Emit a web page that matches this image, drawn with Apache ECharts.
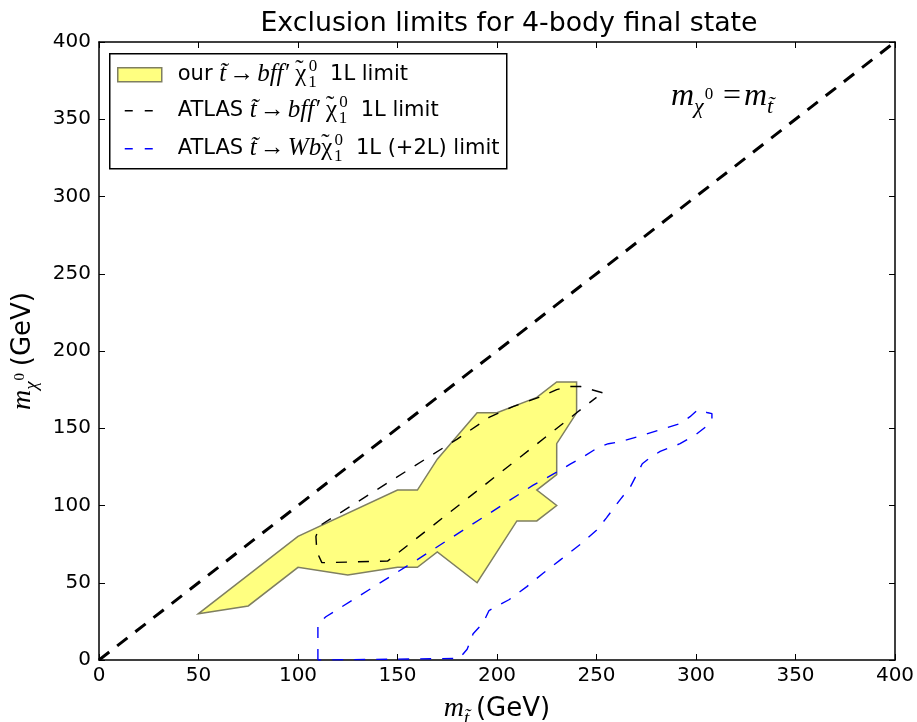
<!DOCTYPE html>
<html>
<head>
<meta charset="utf-8">
<title>Exclusion limits for 4-body final state</title>
<script src="https://cdn.jsdelivr.net/npm/echarts@6/dist/echarts.min.js"></script>
<style>
  html, body { margin: 0; padding: 0; background: #fff; }
  #chart { width: 917px; height: 722px; }
</style>
</head>
<body>
<div id="chart"></div>
<script>
// Axis ticks (GeV)
const xTicks = [0, 50, 100, 150, 200, 250, 300, 350, 400];
const yTicks = [0, 50, 100, 150, 200, 250, 300, 350, 400];

// Our stop -> b f f' chi 4-body 1L excluded region (closed polygon)
const ourX = [50, 75, 100, 125, 150, 160, 170, 190, 210, 220, 230, 220, 230, 230, 240, 240, 230, 220, 200, 190, 170, 160, 150, 100];
const ourY = [30, 35, 60, 55, 60, 60, 70, 50, 90, 90, 100, 110, 120, 140, 160, 180, 180, 170, 160, 160, 130, 110, 110, 80];

// ATLAS stop -> b f f' chi 1L contour
const atlasX = [253, 242, 236, 230, 221, 208, 196, 180, 111, 109, 109.5, 112, 145, 240, 250];
const atlasY = [173, 177, 177, 175, 170, 164, 157, 143, 87, 80, 70, 63, 64, 160, 170];

// ATLAS stop -> W b chi 1L (+2L) contour
const wbX = [110, 110, 114, 160, 218, 232, 237, 242, 251, 256, 262, 272, 282, 292, 297, 301, 306, 308, 308, 305, 300, 292, 282, 277, 273, 267, 262, 255, 250, 243, 232, 223, 215, 206, 196, 193, 188, 185, 181, 180, 110];
const wbY = [0, 23, 28, 65, 113, 123, 127, 130.5, 137.7, 140, 141.3, 145, 149, 153, 157.5, 162, 160, 159.5, 156, 151, 146, 140, 135, 131, 127, 112, 104, 92, 84, 76, 65, 56, 47.5, 39, 32, 24, 17, 7, 1, 0, 0];

// Kinematic boundary m_chi = m_stop
const diagX = [0, 400];
const diagY = [0, 400];

const pairs = (xs, ys) => xs.map((x, i) => [x, ys[i]]);

const SANS = 'DejaVu Sans';
const SERIF = 'Liberation Serif';

// rich-text styles for the math fragments
// base: sans text size, m: math glyph size, spread: extra line height that
// sets how far sub/superscripts move away from the baseline
function mathRich(base, m, spread) {
  const s = Math.round(m * 0.68);
  const ss = Math.round(m * 0.52);
  const lh = m + spread;
  return {
    n: { fontFamily: SANS, fontSize: base, color: '#000', lineHeight: lh },
    i: { fontFamily: SERIF, fontStyle: 'italic', fontSize: m, color: '#000', lineHeight: lh },
    u: { fontFamily: SERIF, fontSize: m, color: '#000', lineHeight: lh },
    r: { fontFamily: SERIF, fontSize: m, color: '#000', lineHeight: lh, padding: [0, 3, 0, 3] },
    // tilde accent drawn back over the preceding chi, leaving the pen where it was
    tl: { fontFamily: SERIF, fontSize: m, color: '#000', lineHeight: m + 2, verticalAlign: 'top',
          padding: [0, Math.round(m * 0.11), 0, -Math.round(m * 0.44)] },
    sub: { fontFamily: SERIF, fontStyle: 'italic', fontSize: s, color: '#000', lineHeight: s + 2, verticalAlign: 'bottom' },
    sup: { fontFamily: SERIF, fontSize: s, color: '#000', lineHeight: s + 2, verticalAlign: 'top', padding: [0, 0, 0, 2] },
    // superscript attached to a subscript (sits near the middle of the line)
    ssup: { fontFamily: SERIF, fontSize: ss, color: '#000', lineHeight: ss + 2, verticalAlign: 'middle', padding: [0, 0, 5, 1] },
    // subscript stacked under the preceding superscript
    stk: { fontFamily: SERIF, fontSize: s, color: '#000', lineHeight: s + 2, verticalAlign: 'bottom',
           padding: [0, 0, 0, -Math.round(s * 0.5)] }
  };
}

const chart = echarts.init(document.getElementById('chart'), null, { renderer: 'canvas' });

const axisCommon = {
  type: 'value',
  min: 0,
  max: 400,
  interval: 50,
  splitLine: { show: false },
  axisLine: { show: true, onZero: false, lineStyle: { color: '#000', width: 1.5 } },
  axisTick: { show: true, inside: true, length: 6, lineStyle: { color: '#000', width: 1 } }
};

const legendX = 109, legendY = 53;
const legendRich = mathRich(21, 25, 8);
const chiT = '{u|χ}{tl|˜}{sup|0}{stk|1}';

const option = {
  backgroundColor: '#fff',
  animation: false,
  title: {
    text: 'Exclusion limits for 4-body final state',
    left: 504,
    top: 6,
    textAlign: 'center',
    textStyle: { fontFamily: SANS, fontSize: 26.8, fontWeight: 'normal', color: '#000' }
  },
  grid: { left: 99, right: 22, top: 42, bottom: 62, containLabel: false, outerBoundsMode: 'none' },
  xAxis: [
    Object.assign({}, axisCommon, {
      position: 'bottom',
      axisLabel: { fontFamily: SANS, fontSize: 20, color: '#000', margin: 6,
        customValues: xTicks },
      name: '{i|m}{sub|t̃}  {n|(GeV)}',
      nameLocation: 'middle',
      nameGap: 30,
      nameTextStyle: { rich: mathRich(26, 28, 10) }
    }),
    Object.assign({}, axisCommon, { position: 'top', axisLabel: { show: false } })
  ],
  yAxis: [
    Object.assign({}, axisCommon, {
      position: 'left',
      axisLabel: { fontFamily: SANS, fontSize: 20, color: '#000', margin: 8,
        customValues: yTicks },
      name: '{i|m}{sub|χ}{ssup|0}  {n|(GeV)}',
      nameLocation: 'middle',
      nameRotate: 90,
      nameGap: 49,
      nameTextStyle: { rich: mathRich(26, 28, 10) }
    }),
    Object.assign({}, axisCommon, { position: 'right', axisLabel: { show: false } })
  ],
  series: [
    {
      name: 'our limit',
      type: 'custom',
      coordinateSystem: 'cartesian2d',
      data: pairs(ourX, ourY),
      z: 1,
      renderItem: function (params, api) {
        if (params.dataIndex !== 0) return null;
        const pts = ourX.map((x, i) => api.coord([x, ourY[i]]));
        return {
          type: 'polygon',
          shape: { points: pts },
          style: { fill: '#ffff80', stroke: '#7f7f60', lineWidth: 1.5 }
        };
      }
    },
    {
      name: 'ATLAS bff limit',
      type: 'line',
      data: pairs(atlasX, atlasY),
      symbol: 'none',
      z: 3,
      lineStyle: { color: '#000', width: 1.4, type: [11, 11] }
    },
    {
      name: 'ATLAS Wb limit',
      type: 'line',
      data: pairs(wbX, wbY),
      symbol: 'none',
      z: 3,
      lineStyle: { color: '#0000ff', width: 1.4, type: [11, 11] }
    },
    {
      name: 'm_chi = m_stop',
      type: 'line',
      data: pairs(diagX, diagY),
      symbol: 'none',
      z: 4,
      lineStyle: { color: '#000', width: 3, type: [13, 10] }
    }
  ],
  graphic: [
    {
      type: 'text',
      left: 671,
      top: 81,
      z: 10,
      style: {
        text: '{i|m}{sub|χ}{ssup|0}  {r|=}{i|m}{sub|t̃}',
        rich: mathRich(23, 32, 10)
      }
    },
    {
      type: 'group',
      left: legendX,
      top: legendY,
      z: 20,
      children: [
        { type: 'rect', shape: { x: 0, y: 0, width: 397, height: 115 },
          style: { fill: '#fff', stroke: '#000', lineWidth: 1.5 } },
        { type: 'rect', shape: { x: 8, y: 14, width: 44, height: 14 },
          style: { fill: '#ffff80', stroke: '#7f7f60', lineWidth: 1.5 } },
        { type: 'line', shape: { x1: 15, y1: 57, x2: 43, y2: 57 },
          style: { stroke: '#000', lineWidth: 1.4, lineDash: [8, 12] } },
        { type: 'line', shape: { x1: 15, y1: 95, x2: 43, y2: 95 },
          style: { stroke: '#0000ff', lineWidth: 1.4, lineDash: [8, 12] } },
        { type: 'text', x: 68, y: 21,
          style: { text: '{n|our }{i|t̃}{r|→}{i|bff′ }' + chiT + '{n|  1L limit}',
            rich: legendRich, verticalAlign: 'middle' } },
        { type: 'text', x: 68, y: 57,
          style: { text: '{n|ATLAS }{i|t̃}{r|→}{i|bff′ }' + chiT + '{n|  1L limit}',
            rich: legendRich, verticalAlign: 'middle' } },
        { type: 'text', x: 68, y: 95,
          style: { text: '{n|ATLAS }{i|t̃}{r|→}{i|Wb}' + chiT + '{n|  1L (+2L) limit}',
            rich: legendRich, verticalAlign: 'middle' } }
      ]
    }
  ]
};

chart.setOption(option);
</script>
</body>
</html>
